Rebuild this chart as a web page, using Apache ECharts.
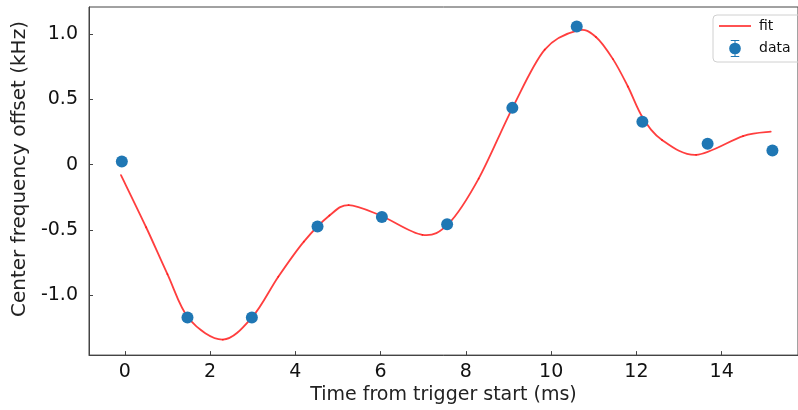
<!DOCTYPE html>
<html>
<head>
<meta charset="utf-8">
<script src="https://cdn.jsdelivr.net/npm/echarts@6/dist/echarts.min.js"></script>
<style>
  html, body { margin: 0; padding: 0; background: #fff; }
  #chart { width: 798px; height: 410px; }
</style>
</head>
<body>
<div id="chart"></div>
<script>
// Measured centre-frequency offsets (kHz) versus time from trigger start (ms)
const dataTime = [-0.07, 1.47, 2.98, 4.52, 6.03, 7.56, 9.09, 10.6, 12.14, 13.67, 15.19];
const dataOffset = [0.025, -1.172, -1.172, -0.474, -0.401, -0.457, 0.436, 1.06, 0.33, 0.16, 0.109];

// Fitted model curve, sampled at its turning points and along the slopes between them
const fitTime = [-0.09, 0.5, 1.0, 1.5, 2.3, 3.0, 3.6, 4.2, 4.8, 5.25, 6.0, 6.98, 7.6, 8.3,
  9.1, 9.85, 10.63, 11.05, 11.45, 11.8, 12.15, 12.6, 13.4, 14.5, 15.15];
const fitOffset = [-0.08, -0.48, -0.84, -1.18, -1.342, -1.165, -0.86, -0.59, -0.39, -0.31, -0.39, -0.538, -0.45, -0.107,
  0.44, 0.883, 1.03, 0.98, 0.81, 0.6, 0.36, 0.19, 0.076, 0.22, 0.253];

const xTicks = [0, 2, 4, 6, 8, 10, 12, 14];
const xTickLabels = ['0', '2', '4', '6', '8', '10', '12', '14'];
const yTicks = [-1, -0.5, 0, 0.5, 1];
const yTickLabels = ['-1.0', '-0.5', '0', '0.5', '1.0'];

const FONT = 'DejaVu Sans';
const AXIS_COLOR = '#444';
const FIT_COLOR = 'rgba(255,20,20,0.82)';

const chart = echarts.init(document.getElementById('chart'), null, { renderer: 'canvas' });

const lineIcon = 'path://M0,0H32V1.8H0Z';
const errorbarIcon = 'path://M2,0H10V1H2Z M2,15H10V16H2Z M5.5,0H6.5V16H5.5Z M0.5,8A5.5,5.5 0 1 1 11.5,8A5.5,5.5 0 1 1 0.5,8Z';

// Draws the fit as a Catmull-Rom spline through its samples, mapped by the axes.
function renderFit(params, api) {
  const pts = fitTime.map((t, i) => api.coord([t, fitOffset[i]]));
  const n = pts.length;
  const children = [];
  for (let i = 0; i < n - 1; i++) {
    const p0 = pts[Math.max(i - 1, 0)];
    const p1 = pts[i];
    const p2 = pts[i + 1];
    const p3 = pts[Math.min(i + 2, n - 1)];
    children.push({
      type: 'bezierCurve',
      shape: {
        x1: p1[0], y1: p1[1],
        cpx1: p1[0] + (p2[0] - p0[0]) / 6, cpy1: p1[1] + (p2[1] - p0[1]) / 6,
        cpx2: p2[0] - (p3[0] - p1[0]) / 6, cpy2: p2[1] - (p3[1] - p1[1]) / 6,
        x2: p2[0], y2: p2[1]
      },
      style: { fill: null, stroke: FIT_COLOR, lineWidth: 1.8, lineCap: 'round' }
    });
  }
  return { type: 'group', children };
}

chart.setOption({
  animation: false,
  backgroundColor: '#fff',
  grid: {
    left: 89, top: 7, right: -2, bottom: 52,
    show: true, borderColor: AXIS_COLOR, borderWidth: 1, backgroundColor: 'transparent'
  },
  legend: {
    left: 713, top: 15,
    orient: 'vertical',
    padding: [4, 40, 5, 6],
    itemWidth: 32, itemHeight: 17, itemGap: 7,
    borderColor: '#d0d0d0', borderWidth: 1, borderRadius: 4,
    textStyle: { fontFamily: FONT, fontSize: 14, color: '#111', padding: [0, 0, 0, 3] },
    data: [
      { name: 'fit', icon: lineIcon, itemStyle: { color: FIT_COLOR } },
      { name: 'data', icon: errorbarIcon }
    ]
  },
  xAxis: {
    type: 'value',
    min: -0.84, max: 15.79,
    name: 'Time from trigger start (ms)',
    nameLocation: 'middle', nameGap: 25,
    nameTextStyle: { fontFamily: FONT, fontSize: 19, color: '#222' },
    axisLine: { show: true, onZero: false, lineStyle: { color: AXIS_COLOR, width: 1 } },
    axisTick: { show: true, inside: true, length: 4, customValues: xTicks, lineStyle: { color: AXIS_COLOR } },
    axisLabel: {
      customValues: xTicks, margin: 7,
      fontFamily: FONT, fontSize: 19, color: '#111',
      formatter: v => xTickLabels[xTicks.indexOf(v)] ?? ''
    },
    splitLine: { show: false }
  },
  yAxis: {
    type: 'value',
    min: -1.461, max: 1.21,
    name: 'Center frequency offset (kHz)',
    nameLocation: 'middle', nameGap: 55, nameRotate: 90,
    nameTextStyle: { fontFamily: FONT, fontSize: 20, color: '#222', padding: [0, 0, 0, 24] },
    axisLine: { show: true, onZero: false, lineStyle: { color: AXIS_COLOR, width: 1 } },
    axisTick: { show: true, inside: true, length: 4, customValues: yTicks, lineStyle: { color: AXIS_COLOR } },
    axisLabel: {
      customValues: yTicks, margin: 11,
      fontFamily: FONT, fontSize: 19, color: '#111',
      formatter: v => yTickLabels[yTicks.indexOf(v)] ?? ''
    },
    splitLine: { show: false }
  },
  series: [
    {
      name: 'fit',
      type: 'custom',
      renderItem: renderFit,
      data: [[fitTime[0], fitOffset[0]]],
      itemStyle: { color: FIT_COLOR },
      clip: false,
      silent: true,
      z: 2
    },
    {
      name: 'data',
      type: 'scatter',
      data: dataTime.map((t, i) => [t, dataOffset[i]]),
      symbol: 'circle',
      symbolSize: 12,
      itemStyle: { color: '#1f77b4', opacity: 1 },
      z: 3
    }
  ]
});
</script>
</body>
</html>
